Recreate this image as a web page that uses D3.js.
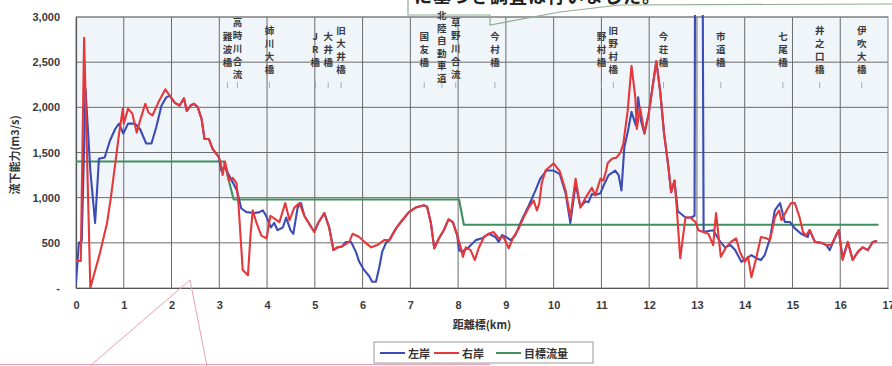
<!DOCTYPE html>
<html>
<head>
<meta charset="utf-8">
<script src="https://cdn.jsdelivr.net/npm/d3@7/dist/d3.min.js"></script>
<style>
  html, body { margin: 0; padding: 0; background: #fff; }
  svg { display: block; }
</style>
</head>
<body>
<svg id="chart" width="892" height="366"></svg>
<script>
// 距離標 (km) と流下能力 (m3/s)
const leftBank = [
  [0,55],[0.06,500],[0.12,520],[0.2,2200],[0.3,1300],[0.4,720],[0.48,1430],[0.6,1445],[0.71,1630],
  [0.82,1760],[0.9,1820],[0.99,1710],[1.09,1820],[1.23,1820],[1.34,1760],[1.47,1600],[1.58,1600],
  [1.68,1780],[1.79,2020],[1.89,2110],[1.96,2130],[2.07,2050],[2.17,2020],[2.26,2100],[2.32,1960],
  [2.4,2020],[2.47,2040],[2.55,2000],[2.63,1870],[2.69,1650],[2.78,1650],[2.86,1540],[2.99,1450],
  [3.04,1300],[3.12,1350],[3.2,1250],[3.28,1170],[3.37,1080],[3.46,880],[3.57,840],[3.74,830],
  [3.84,840],[3.91,860],[3.98,800],[4.08,670],[4.15,720],[4.22,640],[4.33,670],[4.4,780],[4.49,640],
  [4.55,600],[4.64,890],[4.71,940],[4.78,800],[4.93,670],[4.99,620],[5.07,720],[5.2,830],[5.3,670],
  [5.39,420],[5.47,450],[5.57,460],[5.65,510],[5.76,510],[5.86,400],[5.93,290],[6.03,200],[6.14,130],
  [6.2,70],[6.28,70],[6.35,230],[6.41,400],[6.49,500],[6.56,530],[6.7,660],[6.83,750],[6.97,840],
  [7.11,890],[7.29,915],[7.35,900],[7.43,720],[7.5,440],[7.6,550],[7.7,640],[7.8,760],[7.89,730],
  [7.98,585],[8.02,420],[8.08,400],[8.22,450],[8.37,530],[8.5,550],[8.64,600],[8.78,565],[8.85,510],
  [8.92,585],[9.0,565],[9.1,530],[9.2,585],[9.33,750],[9.48,915],[9.62,1080],[9.72,1210],[9.85,1300],
  [10.0,1300],[10.13,1260],[10.25,1050],[10.35,720],[10.46,1150],[10.56,900],[10.67,960],[10.73,950],
  [10.8,1040],[10.87,1030],[10.98,1050],[11.05,1140],[11.15,1250],[11.29,1300],[11.36,1250],[11.42,1080],
  [11.48,1560],[11.56,1750],[11.63,1950],[11.72,1800],[11.77,2110],[11.83,1850],[11.9,1710],[11.99,1930],
  [12.07,2220],[12.15,2510],[12.23,2180],[12.31,1720],[12.4,1350],[12.46,1060],[12.53,1190],[12.6,850],
  [12.76,780],[12.88,780],[12.95,800],[12.96,3400],[13.12,3400],[13.14,620],[13.24,630],[13.34,640],
  [13.49,510],[13.59,450],[13.7,475],[13.8,420],[13.93,290],[14.0,310],[14.14,365],[14.24,330],
  [14.34,310],[14.42,365],[14.53,550],[14.63,860],[14.74,940],[14.84,730],[14.95,730],[15.05,660],
  [15.18,600],[15.32,565],[15.36,640],[15.47,510],[15.6,500],[15.71,475],[15.78,420],[15.91,580],
  [15.97,640],[16.05,330],[16.16,510],[16.26,310],[16.37,400],[16.47,450],[16.58,420],[16.68,510],[16.77,520]
];

const rightBank = [
  [0,300],[0.1,300],[0.17,2770],[0.3,0],[0.5,385],[0.65,720],[0.73,1000],[0.9,1700],[0.98,1985],
  [1.0,1820],[1.09,1985],[1.18,1930],[1.27,1720],[1.34,1850],[1.45,2040],[1.52,1940],[1.6,1910],
  [1.72,2050],[1.87,2200],[1.96,2130],[2.07,2050],[2.17,2020],[2.26,2100],[2.32,1960],[2.4,2020],
  [2.47,2040],[2.55,2000],[2.63,1870],[2.69,1650],[2.78,1650],[2.86,1540],[2.99,1450],[3.03,1380],
  [3.07,1250],[3.12,1400],[3.2,1190],[3.28,1220],[3.36,1160],[3.4,940],[3.49,200],[3.6,140],[3.65,560],
  [3.7,860],[3.78,720],[3.88,580],[3.99,550],[4.07,800],[4.15,770],[4.26,730],[4.38,940],[4.47,750],
  [4.57,890],[4.68,940],[4.78,800],[4.93,670],[4.99,620],[5.07,720],[5.2,830],[5.3,670],[5.39,420],
  [5.47,450],[5.57,460],[5.72,510],[5.79,600],[5.93,565],[6.04,510],[6.18,450],[6.31,475],[6.45,530],
  [6.56,530],[6.7,660],[6.83,750],[6.97,840],[7.11,890],[7.29,915],[7.35,900],[7.43,720],[7.5,440],
  [7.6,550],[7.7,640],[7.8,760],[7.89,730],[7.98,585],[8.06,440],[8.1,345],[8.16,450],[8.26,420],
  [8.35,310],[8.43,440],[8.54,565],[8.64,600],[8.74,620],[8.85,550],[8.95,565],[9.06,440],[9.16,565],
  [9.27,660],[9.37,780],[9.48,890],[9.58,970],[9.65,860],[9.7,940],[9.75,1160],[9.83,1300],[10.0,1380],
  [10.13,1290],[10.25,1080],[10.35,780],[10.46,1210],[10.56,890],[10.67,1000],[10.73,1050],[10.8,1110],
  [10.87,1025],[10.98,1210],[11.04,1190],[11.1,1300],[11.13,1380],[11.22,1430],[11.32,1445],[11.4,1500],
  [11.46,1600],[11.55,1960],[11.63,2460],[11.71,2110],[11.74,1760],[11.81,2000],[11.9,1710],[11.99,1930],
  [12.07,2220],[12.15,2510],[12.23,2180],[12.31,1720],[12.4,1350],[12.46,1060],[12.53,1190],[12.57,940],
  [12.65,330],[12.76,780],[12.86,780],[12.97,730],[13.03,640],[13.13,620],[13.24,600],[13.34,475],
  [13.4,830],[13.5,345],[13.61,450],[13.71,510],[13.82,550],[13.9,400],[14.0,290],[14.07,345],[14.14,120],
  [14.24,330],[14.34,565],[14.45,550],[14.53,530],[14.63,780],[14.72,860],[14.77,750],[14.9,880],
  [14.97,940],[15.05,940],[15.15,780],[15.22,620],[15.28,580],[15.36,640],[15.47,510],[15.6,500],
  [15.71,475],[15.81,475],[15.91,580],[15.97,640],[16.05,310],[16.16,510],[16.26,310],[16.37,400],
  [16.47,450],[16.58,420],[16.68,510],[16.77,520]
];

const targetFlow = [[0,1400],[3.1,1400],[3.3,980],[8.02,980],[8.12,700],[16.8,700]];

// 橋梁・合流点の名称と距離標
const bridgeNames = ["難波橋","高時川合流","姉川大橋","JR橋","大井橋","旧大井橋","国友橋","北陸自動車道",
  "草野川合流","今村橋","野村橋","旧野村橋","今荘橋","市道橋","七尾橋","井之口橋","伊吹大橋"];
const bridgeKm = [3.17,3.38,4.05,5.01,5.28,5.55,7.29,7.66,7.95,8.77,11.0,11.25,12.3,13.5,14.8,15.57,16.45];

const xTicks = d3.range(0, 18);
const yTicks = [0, 500, 1000, 1500, 2000, 2500, 3000];
const seriesNames = ["左岸", "右岸", "目標流量"];
const seriesColors = ["#3b4cb4", "#e5383b", "#3f8f5f"];

const svg = d3.select("#chart");
const x = d3.scaleLinear().domain([0, 17]).range([76, 888]);
const y = d3.scaleLinear().domain([0, 3000]).range([288, 17]);
const numFont = "'Liberation Sans', Arial, 'Noto Sans CJK JP', sans-serif";
const jpFont = "'Noto Sans CJK JP', 'Noto Sans CJK SC', sans-serif";

// plot background: faint blue tint above the 1,000 line
svg.append("rect")
  .attr("x", x(0)).attr("y", y(3000))
  .attr("width", x(17) - x(0)).attr("height", y(1000) - y(3000))
  .attr("fill", "#f0f5fa");

// grid
svg.append("g").selectAll("line").data(xTicks.filter(d => d > 0 && d < 17)).join("line")
  .attr("x1", d => x(d)).attr("x2", d => x(d))
  .attr("y1", y(3000)).attr("y2", y(0))
  .attr("stroke", "#6a6a6a").attr("stroke-width", 1);
svg.append("g").selectAll("line").data(yTicks.filter(d => d > 0)).join("line")
  .attr("x1", x(0)).attr("x2", x(17))
  .attr("y1", d => y(d)).attr("y2", d => y(d))
  .attr("stroke", "#6a6a6a").attr("stroke-width", 1);
svg.append("rect")
  .attr("x", x(0)).attr("y", y(3000))
  .attr("width", x(17) - x(0)).attr("height", y(0) - y(3000))
  .attr("fill", "none").attr("stroke", "#888").attr("stroke-width", 1);

// axes
const xAxis = svg.append("g").attr("transform", `translate(0,${y(0)})`)
  .call(d3.axisBottom(x).tickValues(xTicks).tickSize(0).tickPadding(13).tickFormat(d => d));
const yAxis = svg.append("g").attr("transform", `translate(${x(0)},0)`)
  .call(d3.axisLeft(y).tickValues(yTicks).tickSize(0).tickPadding(16)
    .tickFormat(d => d === 0 ? "-" : d3.format(",")(d)));
[xAxis, yAxis].forEach(g => {
  g.select(".domain").attr("stroke", "#555").attr("stroke-width", 1.2);
  g.selectAll("text").attr("font-family", numFont).attr("font-size", 11)
    .attr("font-weight", "bold").attr("fill", "#3a3a3a");
});

// axis titles
svg.append("text")
  .attr("x", (x(0) + x(17)) / 2).attr("y", 329)
  .attr("text-anchor", "middle").attr("font-family", jpFont)
  .attr("font-size", 11).attr("font-weight", "bold").attr("fill", "#333")
  .text("距離標(km)");
svg.append("text")
  .attr("transform", "translate(19,155) rotate(-90)")
  .attr("text-anchor", "middle").attr("font-family", jpFont)
  .attr("font-size", 11).attr("font-weight", "bold").attr("fill", "#333")
  .text("流下能力(m3/s)");

// callout box at the top edge
const note = svg.append("g");
note.append("path")
  .attr("d", "M408,-2 L408,15 L490,15 L490,25 L560,12 L620,5 L892,4")
  .attr("fill", "none").attr("stroke", "#8fae93").attr("stroke-width", 1.2);
note.append("text").attr("x", 414).attr("y", 3)
  .attr("font-family", jpFont).attr("font-size", 18).attr("font-weight", "bold")
  .attr("fill", "#222").attr("letter-spacing", 1)
  .text("に基づき調査は行いました。");

// bridge labels written vertically
const rowGap = 13;
const labels = svg.append("g");
bridgeNames.forEach((name, i) => {
  const chars = Array.from(name);
  const n = chars.length;
  const gap = n > 5 ? 12.6 : rowGap;
  const top = n > 5 ? 15 : Math.min(49 - (n - 1) * gap / 2, 74 - (n - 1) * gap);
  const cx = x(bridgeKm[i]);
  labels.append("g").selectAll("text").data(chars).join("text")
    .attr("x", cx).attr("y", (c, j) => top + j * gap)
    .attr("text-anchor", "middle").attr("dominant-baseline", "central")
    .attr("font-family", jpFont).attr("font-size", 9.5).attr("font-weight", "bold")
    .attr("fill", "#3a3a3a").text(c => c);
  labels.append("line")
    .attr("x1", cx).attr("x2", cx).attr("y1", 82).attr("y2", 88)
    .attr("stroke", "#999").attr("stroke-width", 0.8);
});

// series
svg.append("clipPath").attr("id", "plotClip").append("rect")
  .attr("x", x(0)).attr("y", y(3000) - 2)
  .attr("width", x(17) - x(0)).attr("height", y(0) - y(3000) + 2);
const line = d3.line().x(d => x(d[0])).y(d => y(d[1]));
const seriesData = [targetFlow, leftBank, rightBank];
const seriesIdx = [2, 0, 1];
const lines = svg.append("g").attr("clip-path", "url(#plotClip)");
seriesData.forEach((data, k) => {
  lines.append("path").datum(data)
    .attr("d", line).attr("fill", "none")
    .attr("stroke", seriesColors[seriesIdx[k]])
    .attr("stroke-width", 2.1).attr("stroke-linejoin", "round");
});

// legend
const legend = svg.append("g");
legend.append("rect").attr("x", 374).attr("y", 342).attr("width", 219).attr("height", 21)
  .attr("fill", "#fff").attr("stroke", "#999").attr("stroke-width", 1);
const legendX = [380, 434, 496];
seriesNames.forEach((name, i) => {
  legend.append("line").attr("x1", legendX[i]).attr("x2", legendX[i] + 25)
    .attr("y1", 353).attr("y2", 353)
    .attr("stroke", seriesColors[i]).attr("stroke-width", 2);
  legend.append("text").attr("x", legendX[i] + 28).attr("y", 353)
    .attr("dominant-baseline", "central").attr("font-family", jpFont)
    .attr("font-size", 11).attr("font-weight", "bold").attr("fill", "#333")
    .text(name);
});

// pink callout pointer at the bottom edge
svg.append("path")
  .attr("d", "M90,366 L190,280 L207,366 M0,364.5 L490,364.5")
  .attr("fill", "none").attr("stroke", "#e8a0b0").attr("stroke-width", 1);
</script>
</body>
</html>
